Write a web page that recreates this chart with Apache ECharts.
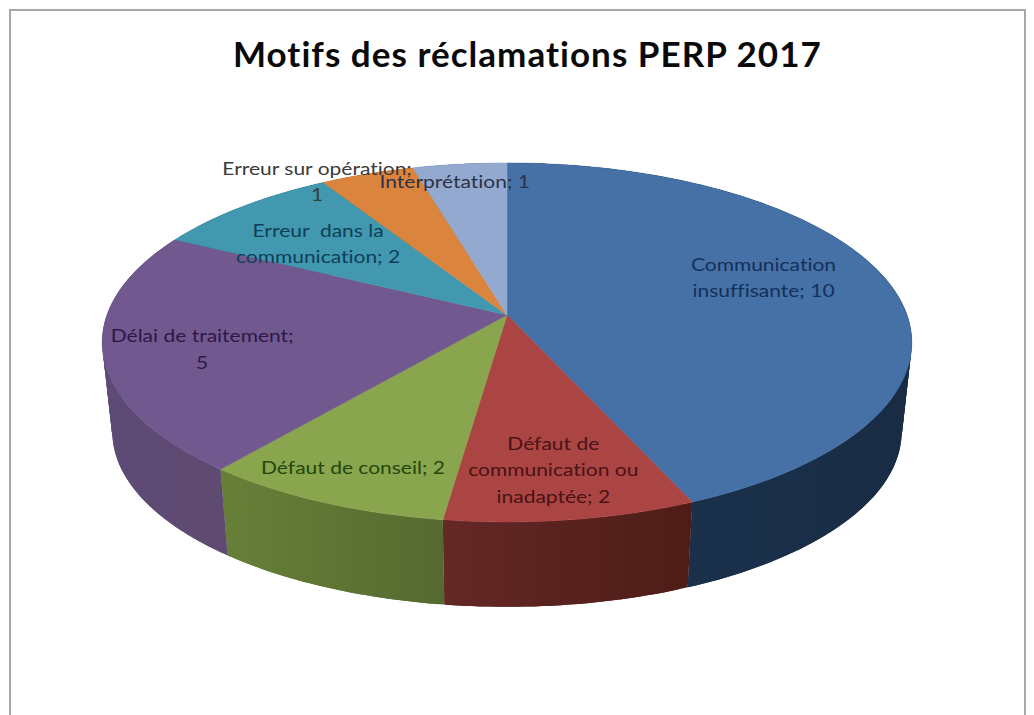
<!DOCTYPE html>
<html><head><meta charset="utf-8">
<style>html,body{margin:0;padding:0;background:#fff}#c{width:1034px;height:715px}
svg text{font-variant-ligatures:none}
svg text[style*="bold"]{letter-spacing:1.03px}</style>
<script src="https://cdn.jsdelivr.net/npm/echarts@6/dist/echarts.min.js"></script>
</head><body><div id="c"></div>
<script>
const titleText = 'Motifs des réclamations PERP 2017';
const categories = ['Communication insuffisante','Défaut de communication ou inadaptée','Défaut de conseil','Délai de traitement','Erreur dans la communication','Erreur sur opération','Interprétation'];
const values = [10,2,2,5,2,1,1];
const labelTexts = ['Communication\ninsuffisante; 10','Défaut de\ncommunication ou\ninadaptée; 2','Défaut de conseil; 2','Délai de traitement;\n5','Erreur  dans la\ncommunication; 2','Erreur sur opération;\n1','Interprétation; 1'];
const topColors = ['#4571a6','#aa4543','#89a54e','#71588f','#4198af','#db843d','#93a9cf'];
const sideColors = [['#1c3350','#182c44'],['#642826','#4e1c17'],['#678038','#566a30'],['#5d4a77','#5f4a70'],['#2a6070','#2a6070'],['#8c5526','#8c5526'],['#5e6c85','#5e6c85']];
const labelColors = ['#14305a','#4a1214','#24480c','#2c1848','#0f3f58','#3a3a3a','#2c3348'];
const labelOffsets = [[7,-15],[7,29],[-40,37],[-45,10],[-11,1],[-95,-38],[-20,-31]];

// Perspective view of the disc
const view = {cx:507, cy:315, b:400, a:175.3, k:0.153, depth:90, shrink:0.975, labelR:0.65, labelStretch:1.2};
const total = values.reduce((s,v)=>s+v,0);
const starts = values.map((_,i)=>values.slice(0,i).reduce((s,v)=>s+v,0)/total*Math.PI*2);

function proj(t,r,lower){
  const X=r*Math.sin(t), Y=-r*Math.cos(t), D=1-view.k*Y;
  const s=lower?view.shrink:1;
  return [view.cx+s*view.b*X/D, view.cy+(lower?view.depth:0)+s*view.a*Y/D];
}
function arc(t0,t1,lower){
  const n=Math.max(8,Math.ceil((t1-t0)/0.01)), pts=[];
  for(let j=0;j<=n;j++) pts.push(proj(t0+(t1-t0)*j/n,1,lower));
  return pts;
}
function span(idx,api){ const t0=starts[idx]; return [t0,t0+api.value(0)/total*Math.PI*2]; }

function renderSide(p,api){
  const [t0,t1]=span(p.dataIndex,api);
  const n=Math.ceil((t1-t0)/0.02), up=[],low=[];
  for(let j=0;j<=n;j++){const t=t0+(t1-t0)*j/n; up.push(proj(t,1,false)); low.push(proj(t,1,true));}
  const xs=up.concat(low).map(q=>q[0]);
  const c=sideColors[p.dataIndex];
  const grad={type:'linear',global:true,x:Math.min(...xs),y:0,x2:Math.max(...xs),y2:0,colorStops:[{offset:0,color:c[0]},{offset:1,color:c[1]}]};
  const children=[];
  // Overlapping bands: each spans two steps so that no seam shows between them
  for(let j=0;j<n;j++){
    const e=Math.min(n,j+2);
    children.push({type:'polygon',shape:{points:up.slice(j,e+1).concat(low.slice(j,e+1).reverse())},style:{fill:grad,stroke:null}});
  }
  return {type:'group',children};
}
function renderTop(p,api){
  const [t0,t1]=span(p.dataIndex,api);
  return {type:'polygon',shape:{points:[[view.cx,view.cy]].concat(arc(t0,t1,false))},style:{fill:topColors[p.dataIndex],stroke:topColors[p.dataIndex],lineWidth:0.5}};
}
function renderLabel(p,api){
  const [t0,t1]=span(p.dataIndex,api);
  const a=proj((t0+t1)/2,view.labelR,false), o=labelOffsets[p.dataIndex];
  return {type:'text',x:a[0]+o[0],y:a[1]+o[1],scaleX:view.labelStretch,style:{x:0,y:0,text:labelTexts[p.dataIndex],align:'center',verticalAlign:'middle',fontFamily:'Lato',fontSize:17.5,lineHeight:26.5,fill:labelColors[p.dataIndex]}};
}
const data=values.map((v,i)=>({name:categories[i],value:[v]}));
const chart=echarts.init(document.getElementById('c'),null,{renderer:'svg'});
chart.setOption({
  animation:false,
  backgroundColor:'#ffffff',
  title:{text:titleText,left:228,top:30,textStyle:{fontFamily:'Lato',fontWeight:'bold',fontSize:35,color:'#0a0a0a'}},
  graphic:[{type:'rect',z:-1,shape:{x:10,y:10,width:1015,height:730},style:{fill:'#fff',stroke:'#a8a8a8',lineWidth:2}}],
  series:[
    {type:'custom',coordinateSystem:'none',renderItem:renderSide,data:data,clip:false,silent:true,z:2},
    {type:'custom',coordinateSystem:'none',renderItem:renderTop,data:data,clip:false,silent:true,z:3},
    {type:'custom',coordinateSystem:'none',renderItem:renderLabel,data:data,clip:false,silent:true,z:4}
  ]
});
</script></body></html>
